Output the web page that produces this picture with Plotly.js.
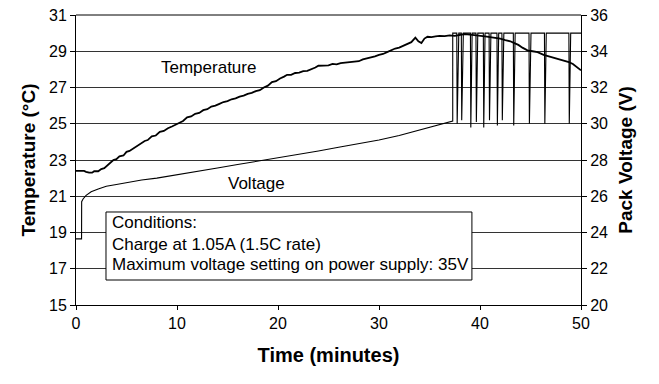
<!DOCTYPE html>
<html>
<head>
<meta charset="utf-8">
<script src="https://cdn.plot.ly/plotly-3.0.1.min.js"></script>
<style>html,body{margin:0;padding:0;background:#fff;}</style>
</head>
<body>
<div id="chart" style="width:659px;height:384px;"></div>
<script>
// Temperature (°C) vs time (minutes)
const tempTime = [0,0.8,1.0,1.3,1.6,1.8,2.2,2.5,2.8,3.1,3.4,3.7,4.0,4.3,4.7,5.0,5.3,5.7,6.0,6.4,6.8,7.1,7.5,7.9,8.3,8.7,9.1,9.5,9.9,10.2,10.6,11.0,11.4,11.8,12.2,12.6,13.0,13.4,13.8,14.2,14.6,15.0,15.4,15.8,16.2,16.6,17.0,17.4,17.8,18.2,18.6,19.0,19.4,19.8,20.2,20.6,20.9,21.3,21.7,22.1,22.5,22.9,23.3,23.7,24.0,24.6,25.0,25.4,25.8,26.2,26.6,27.0,27.5,28.0,28.4,28.8,29.2,29.6,30.0,30.4,30.8,31.2,31.6,32.0,32.4,32.8,33.2,33.6,33.9,34.2,34.5,34.8,35.2,35.6,36.0,36.5,37.0,37.5,38.0,38.5,39.0,39.5,40.0,40.5,41.0,41.5,42.0,42.5,43.0,43.4,43.8,44.2,44.7,45.2,45.7,46.3,46.8,47.3,47.8,48.3,48.8,49.2,49.6,50.0];
const tempValue = [22.4,22.4,22.35,22.3,22.3,22.38,22.38,22.5,22.55,22.7,22.8,23.0,23.05,23.2,23.25,23.45,23.5,23.65,23.75,23.9,24.05,24.1,24.3,24.35,24.55,24.6,24.75,24.85,24.95,25.05,25.15,25.35,25.4,25.55,25.6,25.75,25.8,25.95,26.0,26.1,26.2,26.25,26.35,26.4,26.5,26.55,26.65,26.7,26.8,26.85,27.0,27.1,27.3,27.35,27.5,27.6,27.7,27.7,27.8,27.82,27.9,27.92,28.0,28.1,28.2,28.2,28.22,28.3,28.28,28.35,28.38,28.4,28.42,28.45,28.55,28.6,28.68,28.72,28.8,28.85,28.95,29.05,29.15,29.2,29.3,29.4,29.5,29.75,29.55,29.45,29.7,29.8,29.78,29.82,29.85,29.83,29.88,29.85,29.9,29.95,29.92,29.9,29.85,29.82,29.78,29.75,29.7,29.62,29.55,29.45,29.35,29.2,29.05,29.0,28.95,28.8,28.72,28.65,28.55,28.48,28.4,28.3,28.15,27.95];

// Pack voltage (V): charging ramp
const voltTime = [0,0.55,0.56,0.7,1.0,1.5,2.2,3,4,5,6.5,8,10,12,14,16,18,20,22,24,26,28,30,32,34,36,37.3];
const voltValue = [23.65,23.65,25.7,25.85,26.05,26.25,26.4,26.55,26.65,26.75,26.9,27.0,27.2,27.38,27.56,27.75,27.93,28.12,28.3,28.5,28.7,28.88,29.1,29.35,29.65,29.95,30.15];
// Voltage limit reached: dips from the supply limit
const voltLimit = 35;
const dipStart = [37.7,38.15,39.05,39.6,40.33,40.9,41.68,42.17,43.3,44.85,46.38,48.8];
const dipEnd   = [37.9,38.35,39.22,39.78,40.5,41.08,41.85,42.36,43.48,45.05,46.56,48.98];
const dipLow   = [30.0,30.2,29.8,30.1,29.8,30.2,29.9,30.2,29.9,30.0,30.0,30.0];
const endTime = 50;

const vx = voltTime.slice(), vy = voltValue.slice();
vx.push(voltTime[voltTime.length-1]); vy.push(voltLimit);
for (let i = 0; i < dipStart.length; i++) {
  vx.push(dipStart[i], dipStart[i] + 0.04, dipEnd[i]);
  vy.push(voltLimit, dipLow[i], voltLimit);
}
vx.push(endTime); vy.push(voltLimit);

const traces = [
  {x: tempTime, y: tempValue, type: 'scatter', mode: 'lines', name: 'Temperature',
   line: {color: 'black', width: 1.8}, yaxis: 'y'},
  {x: vx, y: vy, type: 'scatter', mode: 'lines', name: 'Voltage',
   line: {color: 'black', width: 1.1}, yaxis: 'y2'}
];

const fontFam = 'Liberation Sans, Arial, Helvetica, sans-serif';
const layout = {
  width: 659, height: 384,
  margin: {l: 76, r: 78, t: 15, b: 79},
  paper_bgcolor: 'white', plot_bgcolor: 'white',
  font: {family: fontFam, color: 'black', size: 16},
  showlegend: false,
  xaxis: {
    range: [0, 50], tickvals: [0,10,20,30,40,50], showgrid: false, zeroline: false,
    showline: true, linecolor: 'black', linewidth: 1,
    ticks: 'outside', ticklen: 4, tickcolor: 'black',
    tickfont: {size: 16},
    title: {text: '<b>Time (minutes)</b>', font: {size: 20}, standoff: 16}
  },
  yaxis: {
    range: [15, 31], tick0: 15, dtick: 2, showgrid: true, gridcolor: '#333', gridwidth: 1,
    zeroline: false, showline: true, linecolor: 'black', linewidth: 1,
    ticks: 'outside', ticklen: 5, tickcolor: 'black',
    tickfont: {size: 16},
    title: {text: '<b>Temperature (°C)</b>', font: {size: 19}, standoff: 8}
  },
  yaxis2: {
    overlaying: 'y', side: 'right', range: [20, 36], tick0: 20, dtick: 2,
    showgrid: false, zeroline: false, showline: true, linecolor: 'black', linewidth: 1,
    ticks: 'outside', ticklen: 5, tickcolor: 'black',
    tickfont: {size: 16},
    title: {text: '<b>Pack Voltage (V)</b>', font: {size: 19}, standoff: 11}
  },
  shapes: [
    {type: 'line', xref: 'paper', yref: 'paper', x0: 0, x1: 1, y0: 1, y1: 1,
     line: {color: 'black', width: 1}},
    {type: 'rect', xref: 'paper', yref: 'paper', x0: 0.0594, x1: 0.784, y0: 0.0862, y1: 0.3207,
     fillcolor: 'white', line: {color: 'black', width: 1}, layer: 'above'}
  ],
  annotations: [
    {text: 'Temperature', x: 13.1, y: 28.08, xref: 'x', yref: 'y', showarrow: false,
     font: {size: 17}},
    {text: 'Voltage', x: 17.9, y: 21.73, xref: 'x', yref: 'y', showarrow: false,
     font: {size: 17}},
    {text: 'Conditions:', x: 0.068, y: 0.283, xref: 'paper', yref: 'paper', xanchor: 'left',
     yanchor: 'middle', showarrow: false, font: {size: 17}},
    {text: 'Charge at 1.05A (1.5C rate)', x: 0.068, y: 0.207, xref: 'paper', yref: 'paper',
     xanchor: 'left', yanchor: 'middle', showarrow: false, font: {size: 17}},
    {text: 'Maximum voltage setting on power supply: 35V', x: 0.068, y: 0.138, xref: 'paper',
     yref: 'paper', xanchor: 'left', yanchor: 'middle', showarrow: false, font: {size: 17}}
  ]
};

Plotly.newPlot('chart', traces, layout, {displayModeBar: false, staticPlot: true});
</script>
</body>
</html>
